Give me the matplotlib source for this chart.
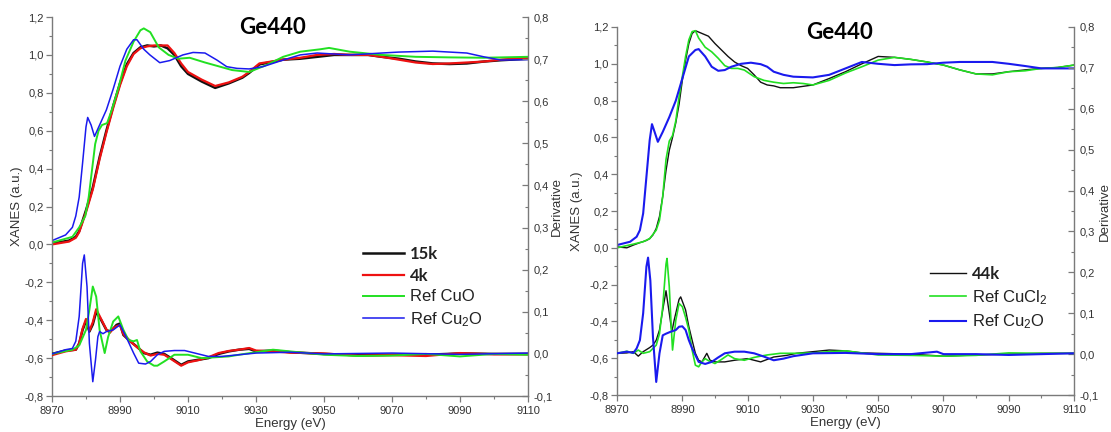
import matplotlib
matplotlib.use('Agg')
import matplotlib.pyplot as plt
from matplotlib.ticker import MultipleLocator, FuncFormatter

plt.rcParams['font.family'] = ['Liberation Sans', 'DejaVu Sans']
plt.rcParams['mathtext.fontset'] = 'custom'
plt.rcParams['mathtext.rm'] = 'Liberation Sans'
plt.rcParams['mathtext.default'] = 'regular'

# ---------------- left panel: XANES ----------------
E_L_SAMPLE = [8970, 8975, 8977, 8978, 8980, 8982, 8984, 8986, 8988, 8990, 8992, 8994, 8996, 8998,
              9000, 9002, 9004, 9006, 9008, 9010, 9014, 9018, 9022, 9026, 9028, 9031, 9038, 9043,
              9048, 9053, 9058, 9063, 9067, 9072, 9077, 9082, 9087, 9092, 9097, 9102, 9110]
X_L_15K = [0.005, 0.02, 0.04, 0.07, 0.18, 0.30, 0.46, 0.60, 0.73, 0.85, 0.95, 1.01, 1.04, 1.05,
           1.045, 1.05, 1.035, 1.0, 0.94, 0.90, 0.86, 0.826, 0.85, 0.88, 0.905, 0.95, 0.975, 0.98,
           0.99, 1.0, 1.0, 1.0, 0.99, 0.98, 0.965, 0.955, 0.952, 0.955, 0.965, 0.972, 0.98]
X_L_4K = [0.0, 0.015, 0.035, 0.065, 0.17, 0.29, 0.45, 0.59, 0.72, 0.84, 0.94, 1.005, 1.035, 1.045,
          1.05, 1.05, 1.05, 1.01, 0.955, 0.91, 0.87, 0.836, 0.855, 0.885, 0.91, 0.955, 0.975, 0.985,
          1.0, 1.005, 1.0, 1.0, 0.99, 0.975, 0.96, 0.952, 0.955, 0.96, 0.965, 0.975, 0.985]
E_L_CUO = [8970, 8976, 8978, 8979.8, 8980.8, 8982.7, 8983.7, 8984.7, 8986.2, 8987.6, 8989.6, 8991.6,
           8994, 8996, 8997, 8998.9, 9001.4, 9004.3, 9007.2, 9010.5, 9015, 9019, 9023, 9028, 9033,
           9038, 9043, 9049, 9051.5, 9057.6, 9067, 9077, 9087, 9097, 9110]
X_L_CUO = [0.01, 0.04, 0.09, 0.15, 0.25, 0.53, 0.60, 0.63, 0.64, 0.71, 0.83, 0.97,
           1.07, 1.13, 1.14, 1.12, 1.04, 1.0, 0.98, 0.985, 0.96, 0.94, 0.92, 0.91, 0.946,
           0.99, 1.017, 1.03, 1.037, 1.017, 1.0, 0.99, 0.987, 0.985, 0.99]
E_L_CU2O = [8970, 8974, 8976, 8977, 8978, 8979, 8980, 8980.5, 8981.5, 8982.5, 8984, 8986, 8988,
            8990, 8992, 8994, 8995, 8997, 8998.8, 9001.7, 9004.6, 9008.5, 9011.5, 9015, 9018.5,
            9021.4, 9024.4, 9028, 9032, 9038, 9043, 9048, 9057.6, 9067, 9072, 9082, 9092, 9097,
            9102, 9110]
X_L_CU2O = [0.02, 0.05, 0.09, 0.15, 0.25, 0.43, 0.62, 0.67, 0.63, 0.57, 0.63, 0.71, 0.82,
            0.94, 1.03, 1.08, 1.08, 1.03, 1.0, 0.959, 0.97, 1.0, 1.013, 1.01, 0.973,
            0.938, 0.929, 0.926, 0.938, 0.973, 1.0, 1.01, 1.0, 1.01, 1.015, 1.02, 1.01, 0.99,
            0.973, 0.975]

# ---------------- left panel: derivative ----------------
E_LD_SAMPLE = [8970, 8974, 8977, 8978, 8979, 8980, 8981, 8982, 8983, 8984.5, 8986, 8987, 8988,
               8989, 8990, 8991, 8993, 8995, 8997, 8999, 9001, 9003, 9005, 9008, 9010, 9013, 9016,
               9019, 9022, 9025, 9028, 9030, 9035, 9040, 9050, 9060, 9070, 9080, 9090, 9100, 9110]
D_L_15K = [0.0, 0.008, 0.01, 0.025, 0.057, 0.078, 0.053, 0.07, 0.1, 0.08, 0.057, 0.053, 0.06,
           0.069, 0.072, 0.045, 0.03, 0.017, 0.002, -0.002, 0.003, 0.0, -0.01, -0.026, -0.018,
           -0.014, -0.01, 0.0, 0.006, 0.01, 0.012, 0.006, 0.008, 0.004, 0.0, -0.003, -0.002,
           -0.002, 0.001, 0.0, 0.0]
D_L_4K = [-0.003, 0.006, 0.01, 0.025, 0.06, 0.083, 0.055, 0.075, 0.106, 0.082, 0.058, 0.05, 0.06,
          0.066, 0.068, 0.047, 0.03, 0.016, 0.004, -0.004, 0.0, -0.002, -0.012, -0.028, -0.02,
          -0.015, -0.008, 0.002, 0.007, 0.01, 0.014, 0.008, 0.006, 0.003, 0.001, -0.004, -0.003,
          -0.005, 0.002, -0.001, -0.001]
E_LD_CUO = [8970, 8976, 8978, 8980, 8981, 8982, 8983, 8984, 8985.5, 8986.5, 8988, 8989.5, 8991,
            8992.5, 8994, 8995, 8996, 8998, 9000, 9001, 9003, 9006, 9010, 9014, 9018, 9022, 9025,
            9030, 9035, 9040, 9050, 9060, 9070, 9080, 9090, 9100, 9110]
D_L_CUO = [0.0, 0.01, 0.02, 0.057, 0.105, 0.16, 0.136, 0.057, 0.002, 0.04, 0.077, 0.089, 0.057,
           0.033, 0.03, 0.033, 0.006, -0.018, -0.028, -0.028, -0.018, -0.002, -0.002, -0.01,
           -0.008, -0.006, -0.002, 0.004, 0.01, 0.006, -0.002, -0.005, -0.004, 0.0, -0.006, 0.0,
           -0.002]
E_LD_CU2O = [8970, 8974, 8976, 8977, 8978, 8979, 8979.5, 8980.3, 8981, 8982, 8982.8, 8983.5, 8984,
             8985, 8986, 8988, 8990, 8992, 8994, 8995.5, 8997.5, 8999, 9001, 9003, 9006, 9009,
             9012, 9016, 9020, 9025, 9030, 9040, 9050, 9070, 9090, 9110]
D_L_CU2O = [0.0, 0.01, 0.013, 0.03, 0.089, 0.215, 0.235, 0.16, 0.025, -0.066, -0.014, 0.041, 0.053,
            0.048, 0.053, 0.057, 0.069, 0.037, 0.002, -0.022, -0.024, -0.018, -0.002, 0.006,
            0.008, 0.008, 0.002, -0.006, -0.006, -0.002, 0.002, 0.004, 0.0, 0.002, -0.001, 0.002]

# ---------------- right panel: XANES ----------------
E_R_44K = [8970, 8973, 8975, 8977, 8979, 8980, 8981, 8982, 8983, 8984, 8985, 8986, 8987, 8988,
           8989, 8990, 8991, 8992, 8993, 8994, 8996, 8998, 9000, 9002, 9004, 9006, 9008, 9010,
           9012, 9014, 9016, 9018, 9020, 9024, 9030, 9035, 9040, 9045, 9050, 9055, 9060, 9065,
           9070, 9075, 9080, 9085, 9090, 9095, 9100, 9105, 9110]
X_R_44K = [0.005, 0.0, 0.015, 0.028, 0.04, 0.05, 0.07, 0.105, 0.17, 0.28, 0.42, 0.53, 0.60, 0.68,
           0.78, 0.91, 1.02, 1.11, 1.165, 1.18, 1.165, 1.15, 1.11, 1.075, 1.04, 1.01, 0.99, 0.975,
           0.94, 0.90, 0.885, 0.88, 0.87, 0.87, 0.885, 0.92, 0.957, 1.0, 1.04, 1.035, 1.024, 1.01,
           0.993, 0.967, 0.945, 0.945, 0.957, 0.967, 0.975, 0.98, 0.993]
E_R_CUCL2 = [8970, 8975, 8978, 8980, 8982, 8983, 8984, 8985, 8986, 8987, 8988, 8989, 8990, 8991,
             8992, 8993, 8994, 8995, 8997, 8999, 9001, 9003, 9005, 9007, 9009, 9012, 9015, 9018,
             9021, 9024, 9027, 9030, 9035, 9040, 9045, 9050, 9055, 9060, 9065, 9070, 9075, 9080,
             9085, 9090, 9095, 9100, 9105, 9110]
X_R_CUCL2 = [0.0, 0.02, 0.033, 0.05, 0.096, 0.15, 0.28, 0.48, 0.58, 0.61, 0.69, 0.82, 0.93, 1.04,
             1.13, 1.175, 1.18, 1.14, 1.09, 1.065, 1.03, 0.99, 0.975, 0.975, 0.966, 0.93, 0.91,
             0.90, 0.893, 0.897, 0.893, 0.885, 0.91, 0.95, 0.984, 1.02, 1.035, 1.024, 1.01, 0.993,
             0.967, 0.945, 0.94, 0.957, 0.962, 0.975, 0.98, 0.993]
E_R_CU2O = [8970, 8974, 8976, 8977, 8978, 8979, 8980, 8980.7, 8981.5, 8982.5, 8984, 8986, 8988,
            8990, 8992, 8994, 8995, 8997, 8999, 9001, 9003, 9005, 9008, 9011, 9014, 9016, 9018,
            9021, 9024, 9030, 9035, 9040, 9045, 9050, 9055, 9060, 9065, 9070, 9075, 9080, 9085,
            9090, 9095, 9100, 9110]
X_R_CU2O = [0.015, 0.033, 0.06, 0.096, 0.187, 0.386, 0.585, 0.672, 0.63, 0.576, 0.63, 0.71, 0.80,
            0.92, 1.04, 1.075, 1.08, 1.04, 0.984, 0.962, 0.966, 0.984, 1.0, 1.006, 0.998, 0.984,
            0.957, 0.94, 0.93, 0.926, 0.94, 0.975, 1.01, 1.0, 0.993, 0.997, 0.998, 1.006, 1.01,
            1.01, 1.01, 1.0, 0.988, 0.975, 0.975]

# ---------------- right panel: derivative ----------------
E_RD_44K = [8970, 8973, 8975, 8976.5, 8978, 8980, 8981, 8982, 8983, 8984, 8985, 8986, 8986.8,
            8987.5, 8989, 8989.5, 8991, 8992, 8993, 8994, 8995, 8996, 8997.5, 8998.5, 9000, 9003,
            9006, 9010, 9014, 9018, 9022, 9025, 9030, 9035, 9040, 9045, 9050, 9060, 9070, 9080,
            9090, 9100, 9110]
D_R_44K = [0.002, 0.003, 0.006, -0.005, 0.006, 0.016, 0.022, 0.034, 0.059, 0.108, 0.155, 0.1,
           0.055, 0.083, 0.134, 0.14, 0.108, 0.067, 0.034, 0.002, -0.015, -0.019, 0.002, -0.015,
           -0.019, -0.019, -0.015, -0.011, -0.019, -0.007, -0.003, 0.002, 0.006, 0.01, 0.008,
           0.003, 0.002, 0.0, -0.005, -0.002, 0.0, 0.002, 0.002]
E_RD_CUCL2 = [8970, 8973, 8975, 8976.5, 8978, 8980, 8982, 8983, 8984, 8985, 8985.3, 8986, 8986.5,
              8987, 8988, 8989, 8990, 8991, 8992, 8993, 8994, 8995, 8996, 8997, 8998, 9000, 9002,
              9004, 9006, 9009, 9012, 9016, 9020, 9025, 9030, 9035, 9040, 9045, 9050, 9060, 9070,
              9080, 9090, 9100, 9110]
D_R_CUCL2 = [0.002, 0.007, 0.002, 0.01, 0.002, 0.006, 0.022, 0.05, 0.116, 0.22, 0.234, 0.165,
             0.083, 0.01, 0.083, 0.124, 0.116, 0.09, 0.059, 0.01, -0.027, -0.031, -0.019, -0.011,
             -0.016, -0.023, -0.013, -0.002, -0.011, -0.015, -0.008, -0.002, 0.002, 0.002, 0.003,
             0.006, 0.008, 0.003, -0.002, -0.003, -0.005, -0.003, 0.003, 0.002, 0.002]
E_RD_CU2O = [8970, 8973, 8975, 8976, 8977, 8978, 8979, 8979.5, 8980.2, 8981, 8982, 8983, 8984,
             8985, 8986.5, 8988, 8989, 8990, 8991, 8992, 8993, 8995, 8997, 8999, 9001, 9003, 9006,
             9009, 9012, 9015, 9018, 9021, 9024, 9030, 9040, 9050, 9060, 9068, 9070, 9080, 9090,
             9100, 9110]
D_R_CU2O = [0.002, 0.006, 0.003, 0.014, 0.034, 0.1, 0.214, 0.236, 0.18, 0.042, -0.068, 0.002,
            0.046, 0.05, 0.055, 0.059, 0.067, 0.068, 0.059, 0.034, 0.014, -0.019, -0.024, -0.019,
            -0.008, 0.002, 0.006, 0.006, 0.002, -0.006, -0.015, -0.011, -0.005, 0.002, 0.003, 0.0,
            0.0, 0.006, 0.0, 0.0, -0.002, 0.0, 0.002]

X_TICKS = [8970, 8990, 9010, 9030, 9050, 9070, 9090, 9110]

BLACK, RED, GREEN, BLUE = '#111111', '#ee1111', '#22e022', '#1a1aee'
GREY = '#7a7a7a'

comma = FuncFormatter(lambda v, p: f'{v:.1f}'.replace('.', ','))


def style_panel(ax, ax2, ylab_x, ylab2_x):
    ax.set_xlim(8970, 9110)
    ax.set_ylim(-0.8, 1.2)
    ax2.set_ylim(-0.1, 0.8)
    ax.set_xticks(X_TICKS)
    ax.set_xticks([t + 10 for t in X_TICKS[:-1]], minor=True)
    ax.yaxis.set_major_locator(MultipleLocator(0.2))
    ax.yaxis.set_minor_locator(MultipleLocator(0.1))
    ax2.yaxis.set_major_locator(MultipleLocator(0.1))
    ax2.yaxis.set_minor_locator(MultipleLocator(0.05))
    ax.yaxis.set_major_formatter(comma)
    ax2.yaxis.set_major_formatter(comma)

    for a in (ax, ax2):
        for s in a.spines.values():
            s.set_color(GREY)
            s.set_linewidth(1.0)
        a.spines['top'].set_visible(False)
    ax.spines['right'].set_visible(False)
    ax2.spines['left'].set_visible(False)
    ax2.spines['bottom'].set_visible(False)

    ax.tick_params(which='major', direction='out', length=4, width=0.9, color=GREY,
                   labelsize=8, labelcolor='#333333', pad=2)
    ax.tick_params(axis='x', which='major', pad=3.5)
    ax.tick_params(which='minor', direction='out', length=2.5, width=0.8, color=GREY)
    ax2.tick_params(which='major', direction='in', length=4, width=0.9, color=GREY,
                    labelsize=8, labelcolor='#333333', pad=4)
    ax2.tick_params(which='minor', direction='in', length=2.5, width=0.8, color=GREY)

    ax.set_xlabel('Energy (eV)', fontsize=9.5, color='#333333', labelpad=1)
    ax.set_ylabel('XANES (a.u.)', fontsize=9.5, color='#333333')
    ax2.set_ylabel('Derivative', fontsize=9.5, color='#333333')
    ax.yaxis.set_label_coords(ylab_x, 0.5)
    ax2.yaxis.set_label_coords(ylab2_x, 0.5)


fig = plt.figure(figsize=(11.11, 4.32), dpi=100)
fig.patch.set_facecolor('white')

# ---- left panel ----
axL = fig.add_axes([0.0468, 0.0833, 0.4284, 0.8773])
axL2 = axL.twinx()
l1, = axL.plot(E_L_SAMPLE, X_L_15K, color=BLACK, lw=1.8)
l2, = axL.plot(E_L_SAMPLE, X_L_4K, color=RED, lw=1.6)
l3, = axL.plot(E_L_CUO, X_L_CUO, color=GREEN, lw=1.4)
l4, = axL.plot(E_L_CU2O, X_L_CU2O, color=BLUE, lw=1.1)
axL2.plot(E_LD_SAMPLE, D_L_15K, color=BLACK, lw=1.8)
axL2.plot(E_LD_SAMPLE, D_L_4K, color=RED, lw=1.6)
axL2.plot(E_LD_CUO, D_L_CUO, color=GREEN, lw=1.4)
axL2.plot(E_LD_CU2O, D_L_CU2O, color=BLUE, lw=1.1)
style_panel(axL, axL2, -0.061, 1.048)
axL.text(0.464, 0.972, 'Ge440', transform=axL.transAxes, ha='center', va='center',
         fontsize=16, fontweight='bold', family=['Lato', 'DejaVu Sans'])

legL = axL2.legend([l1, l2, l3, l4], ['15k', '4k', 'Ref CuO', 'Ref Cu$_2$O'],
                   loc='upper left', bbox_to_anchor=(363 / 1111, 1 - 246 / 432),
                   bbox_transform=fig.transFigure, frameon=False, fontsize=12,
                   handlelength=2.45, handletextpad=0.35, labelspacing=0.34,
                   borderpad=0, borderaxespad=0)
for t in legL.get_texts()[:2]:
    t.set_family(['Lato', 'DejaVu Sans'])
    t.set_fontweight('bold')
for t in legL.get_texts():
    t.set_color('#222222')

# ---- right panel ----
axR = fig.add_axes([0.5554, 0.0856, 0.4113, 0.8519])
axR2 = axR.twinx()
r1, = axR.plot(E_R_44K, X_R_44K, color=BLACK, lw=1.0)
r2, = axR.plot(E_R_CUCL2, X_R_CUCL2, color=GREEN, lw=1.2)
r3, = axR.plot(E_R_CU2O, X_R_CU2O, color=BLUE, lw=1.5)
axR2.plot(E_RD_44K, D_R_44K, color=BLACK, lw=1.0)
axR2.plot(E_RD_CUCL2, D_R_CUCL2, color=GREEN, lw=1.2)
axR2.plot(E_RD_CU2O, D_R_CU2O, color=BLUE, lw=1.5)
style_panel(axR, axR2, -0.074, 1.055)
axR.text(0.486, 0.985, 'Ge440', transform=axR.transAxes, ha='center', va='center',
         fontsize=16, fontweight='bold', family=['Lato', 'DejaVu Sans'])

legR = axR2.legend([r1, r2, r3], ['44k', 'Ref CuCl$_2$', 'Ref Cu$_2$O'],
                   loc='upper left', bbox_to_anchor=(930 / 1111, 1 - 266 / 432),
                   bbox_transform=fig.transFigure, frameon=False, fontsize=12,
                   handlelength=2.15, handletextpad=0.35, labelspacing=0.35,
                   borderpad=0, borderaxespad=0)
legR.get_texts()[0].set_family(['Lato', 'DejaVu Sans'])
legR.get_texts()[0].set_fontweight('bold')
for t in legR.get_texts():
    t.set_color('#222222')

fig.savefig('out.png', dpi=100, facecolor='white')
